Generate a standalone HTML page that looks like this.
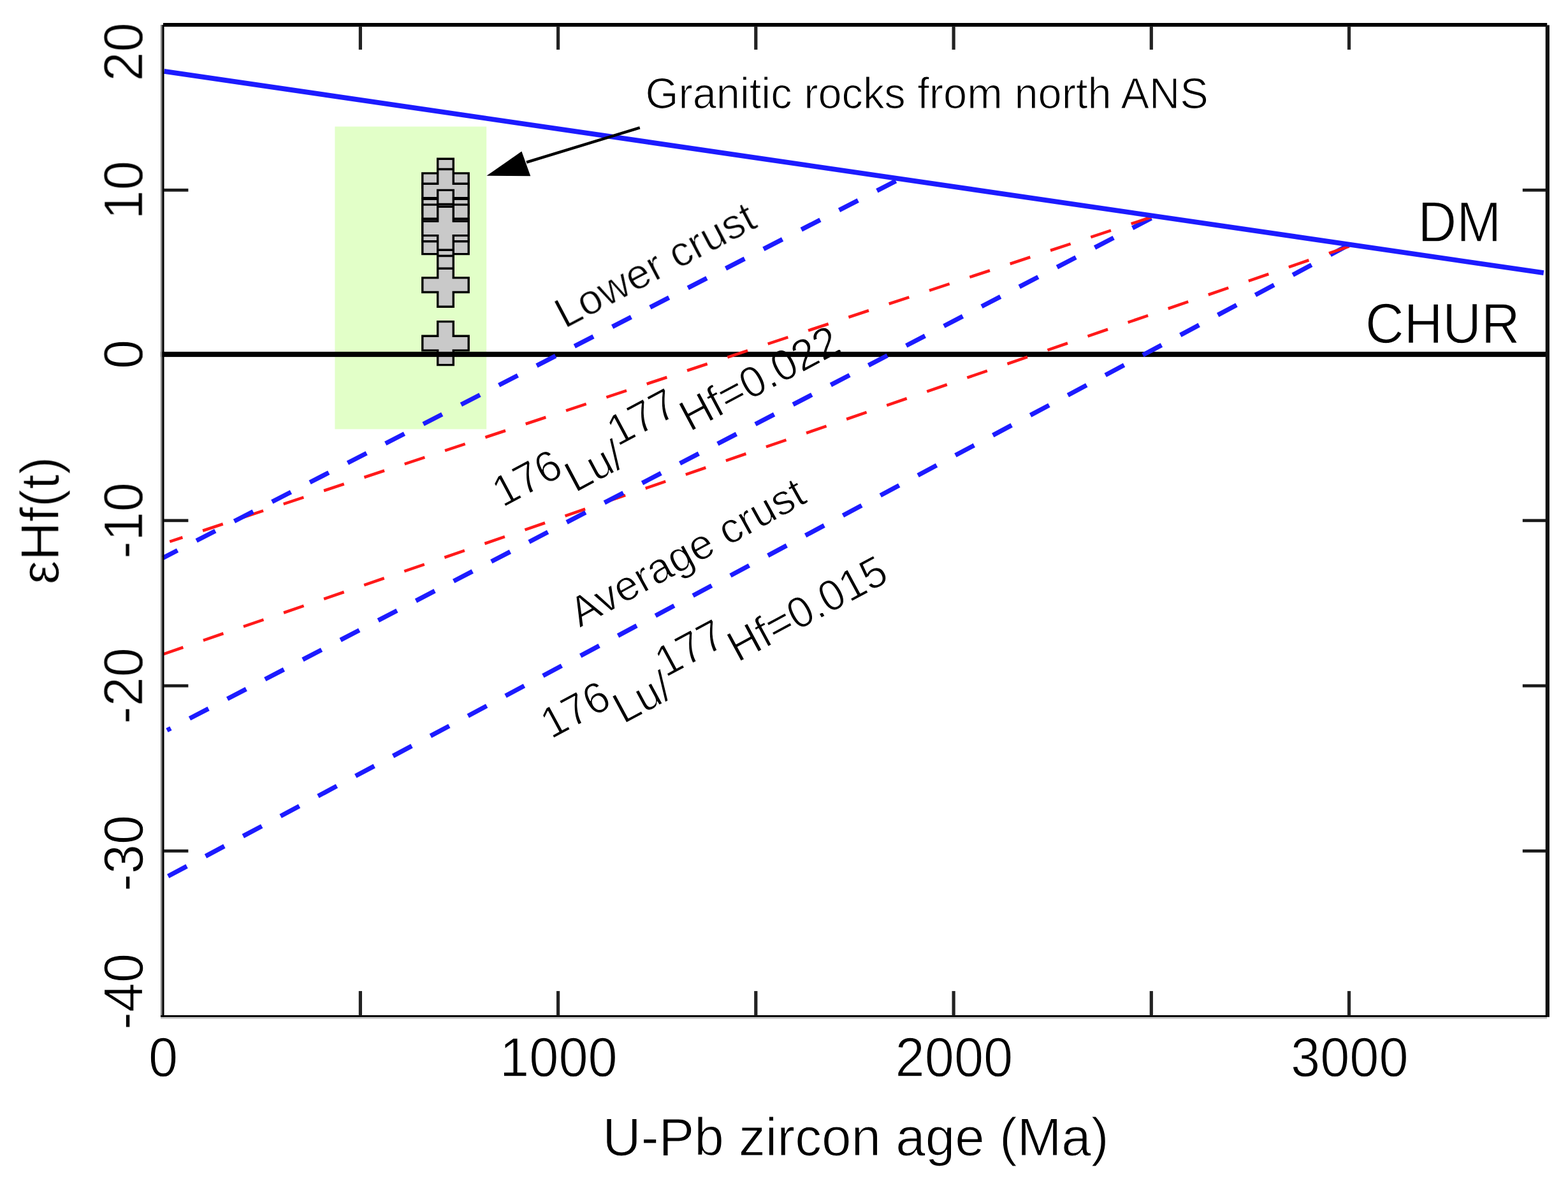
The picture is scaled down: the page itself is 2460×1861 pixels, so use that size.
<!DOCTYPE html>
<html lang="en">
<head>
<meta charset="utf-8">
<title>εHf(t) vs U-Pb zircon age</title>
<style>
html,body{margin:0;padding:0;background:#fff;}
body{width:2460px;height:1861px;overflow:hidden;}
svg{display:block;}
</style>
</head>
<body>
<svg width="2460" height="1861" viewBox="0 0 2460 1861" role="img" aria-label="Zircon epsilon-Hf(t) versus U-Pb age diagram">
<rect width="2460" height="1861" fill="#fff"/>
<rect x="525.4" y="198.6" width="237.8" height="474.8" fill="#e2ffc8"/>
<g fill="#c9c9c9" stroke="#000" stroke-width="3.4" stroke-linejoin="miter">
<polygon points="686.7,504.6 711.3,504.6 711.3,527.3 735.2,527.3 735.2,549.9 711.3,549.9 711.3,572.6 686.7,572.6 686.7,549.9 662.8,549.9 662.8,527.3 686.7,527.3"/>
<polygon points="686.7,413.2 711.3,413.2 711.3,435.9 735.2,435.9 735.2,458.5 711.3,458.5 711.3,481.2 686.7,481.2 686.7,458.5 662.8,458.5 662.8,435.9 686.7,435.9"/>
<polygon points="686.7,353.3 711.3,353.3 711.3,376.0 735.2,376.0 735.2,398.6 711.3,398.6 711.3,421.3 686.7,421.3 686.7,398.6 662.8,398.6 662.8,376.0 686.7,376.0"/>
<polygon points="686.7,333.5 711.3,333.5 711.3,356.2 735.2,356.2 735.2,378.8 711.3,378.8 711.3,401.5 686.7,401.5 686.7,378.8 662.8,378.8 662.8,356.2 686.7,356.2"/>
<polygon points="686.7,289.6 711.3,289.6 711.3,312.3 735.2,312.3 735.2,334.9 711.3,334.9 711.3,357.6 686.7,357.6 686.7,334.9 662.8,334.9 662.8,312.3 686.7,312.3"/>
<polygon points="686.7,249.2 711.3,249.2 711.3,271.9 735.2,271.9 735.2,294.5 711.3,294.5 711.3,317.2 686.7,317.2 686.7,294.5 662.8,294.5 662.8,271.9 686.7,271.9"/>
<polygon points="686.7,265.5 711.3,265.5 711.3,288.2 735.2,288.2 735.2,310.8 711.3,310.8 711.3,333.5 686.7,333.5 686.7,310.8 662.8,310.8 662.8,288.2 686.7,288.2"/>
<polygon points="686.7,298.4 711.3,298.4 711.3,321.1 735.2,321.1 735.2,343.7 711.3,343.7 711.3,366.4 686.7,366.4 686.7,343.7 662.8,343.7 662.8,321.1 686.7,321.1"/>
<polygon points="686.7,320.5 711.3,320.5 711.3,343.2 735.2,343.2 735.2,365.8 711.3,365.8 711.3,388.5 686.7,388.5 686.7,365.8 662.8,365.8 662.8,343.2 686.7,343.2"/>
<polygon points="686.7,324.3 711.3,324.3 711.3,347.0 735.2,347.0 735.2,369.6 711.3,369.6 711.3,392.3 686.7,392.3 686.7,369.6 662.8,369.6 662.8,347.0 686.7,347.0"/>
</g>
<rect x="251.8" y="551.9" width="2174" height="8.2" fill="#000"/>
<line x1="2116.5" y1="384.2" x2="258.0" y2="1378.0" stroke="#1c1bff" stroke-width="7.2" stroke-dasharray="33.35 33.35"/>
<line x1="2116.5" y1="386.6" x2="255.5" y2="1026.7" stroke="#ff1919" stroke-width="4.6" stroke-dasharray="33.35 33.35"/>
<line x1="1806.3" y1="342.3" x2="262.0" y2="1145.9" stroke="#1c1bff" stroke-width="7.2" stroke-dasharray="33.35 33.35"/>
<line x1="1806.3" y1="340.7" x2="266.3" y2="849.9" stroke="#ff1919" stroke-width="4.6" stroke-dasharray="33.35 33.35"/>
<line x1="1405.5" y1="284.0" x2="255.5" y2="875.5" stroke="#1c1bff" stroke-width="7.2" stroke-dasharray="33.35 33.35"/>
<line x1="257.5" y1="111.9" x2="2421.8" y2="428.2" stroke="#1c1bff" stroke-width="7.8"/>
<g fill="#000">
<rect x="251.9" y="39" width="2.6" height="1557" fill="#888"/>
<rect x="254.4" y="39" width="3.1" height="1557"/>
<rect x="256" y="36" width="2171.2" height="5.9"/>
<rect x="2424.7" y="39.4" width="6.2" height="1556.5" fill="#111"/>
<rect x="252" y="1595.9" width="2175" height="2.9" fill="#c8c8c8"/>
<rect x="252" y="1593" width="2175" height="2.9"/>
<rect x="562.8" y="41" width="5.2" height="36.9" fill="#222"/>
<rect x="562.8" y="1555.1" width="5.2" height="38.5" fill="#222"/>
<rect x="873.0" y="41" width="5.2" height="36.9" fill="#222"/>
<rect x="873.0" y="1555.1" width="5.2" height="38.5" fill="#222"/>
<rect x="1183.2" y="41" width="5.2" height="36.9" fill="#222"/>
<rect x="1183.2" y="1555.1" width="5.2" height="38.5" fill="#222"/>
<rect x="1493.5" y="41" width="5.2" height="36.9" fill="#222"/>
<rect x="1493.5" y="1555.1" width="5.2" height="38.5" fill="#222"/>
<rect x="1803.7" y="41" width="5.2" height="36.9" fill="#222"/>
<rect x="1803.7" y="1555.1" width="5.2" height="38.5" fill="#222"/>
<rect x="2113.9" y="41" width="5.2" height="36.9" fill="#222"/>
<rect x="2113.9" y="1555.1" width="5.2" height="38.5" fill="#222"/>
<rect x="257" y="295.9" width="38.4" height="4.8" fill="#1a1a1a"/>
<rect x="2388.8" y="295.9" width="36.5" height="4.8" fill="#1a1a1a"/>
<rect x="257" y="814.4" width="38.4" height="4.8" fill="#1a1a1a"/>
<rect x="2388.8" y="814.4" width="36.5" height="4.8" fill="#1a1a1a"/>
<rect x="257" y="1073.7" width="38.4" height="4.8" fill="#1a1a1a"/>
<rect x="2388.8" y="1073.7" width="36.5" height="4.8" fill="#1a1a1a"/>
<rect x="257" y="1332.9" width="38.4" height="4.8" fill="#1a1a1a"/>
<rect x="2388.8" y="1332.9" width="36.5" height="4.8" fill="#1a1a1a"/>
</g>
<line x1="1003.8" y1="200.3" x2="826" y2="254.7" stroke="#000" stroke-width="4.4"/>
<polygon points="763.5,275.8 818.4,237.6 832.3,276.2" fill="#000"/>
<g font-family="'Liberation Sans', sans-serif" fill="#000" stroke="#fff" stroke-width="1.2" stroke-linejoin="round" style="paint-order:fill stroke;mix-blend-mode:multiply">
<text transform="translate(1012.5,169.6) scale(1,1.025)" font-size="66.8" text-anchor="start">Granitic rocks from north ANS</text>
<text transform="translate(2224.5,379.2) scale(1,1.055)" font-size="84" text-anchor="start">DM</text>
<text transform="translate(2142.0,537.8) scale(1,1.055)" font-size="84" text-anchor="start">CHUR</text>
<text transform="translate(256.0,1688.8) scale(1,1.055)" font-size="83" text-anchor="middle">0</text>
<text transform="translate(876.4,1688.8) scale(1,1.055)" font-size="83" text-anchor="middle">1000</text>
<text transform="translate(1496.9,1688.8) scale(1,1.055)" font-size="83" text-anchor="middle">2000</text>
<text transform="translate(2117.3,1688.8) scale(1,1.055)" font-size="83" text-anchor="middle">3000</text>
<text transform="translate(223.8,35.3) rotate(-90) scale(1,1.055)" font-size="83" text-anchor="end">20</text>
<text transform="translate(223.8,298.3) rotate(-90) scale(1,1.055)" font-size="83" text-anchor="middle">10</text>
<text transform="translate(223.8,556.0) rotate(-90) scale(1,1.055)" font-size="83" text-anchor="middle">0</text>
<text transform="translate(223.8,816.8) rotate(-90) scale(1,1.055)" font-size="83" text-anchor="middle">-10</text>
<text transform="translate(223.8,1076.1) rotate(-90) scale(1,1.055)" font-size="83" text-anchor="middle">-20</text>
<text transform="translate(223.8,1338.8) rotate(-90) scale(1,1.055)" font-size="83" text-anchor="middle">-30</text>
<text transform="translate(223.8,1615.8) rotate(-90) scale(1,1.055)" font-size="83" text-anchor="start">-40</text>
<text transform="translate(1342.5,1813.2)" font-size="83.6" text-anchor="middle">U-Pb zircon age (Ma)</text>
<text transform="translate(91.5,816.7) rotate(-90) scale(1,1.02)" font-size="84" text-anchor="middle">εHf(t)</text>
<text transform="translate(885.9,516.3) rotate(-27.8)" font-size="66.7" text-anchor="start">Lower crust</text>
<text transform="translate(909.5,985.6) rotate(-28.9)" font-size="66.7" text-anchor="start">Average crust</text>
<text transform="translate(804.0,826.0) rotate(-28.0) scale(1,1.03)" font-size="66.7" text-anchor="start"><tspan dy="-32">176</tspan><tspan dy="32">Lu/</tspan><tspan dy="-32">177</tspan><tspan dy="32">Hf=0.022</tspan></text>
<text transform="translate(880.0,1189.5) rotate(-28.3) scale(1,1.03)" font-size="66.7" text-anchor="start"><tspan dy="-32">176</tspan><tspan dy="32">Lu/</tspan><tspan dy="-32">177</tspan><tspan dy="32">Hf=0.015</tspan></text>
</g>
</svg>
</body>
</html>
